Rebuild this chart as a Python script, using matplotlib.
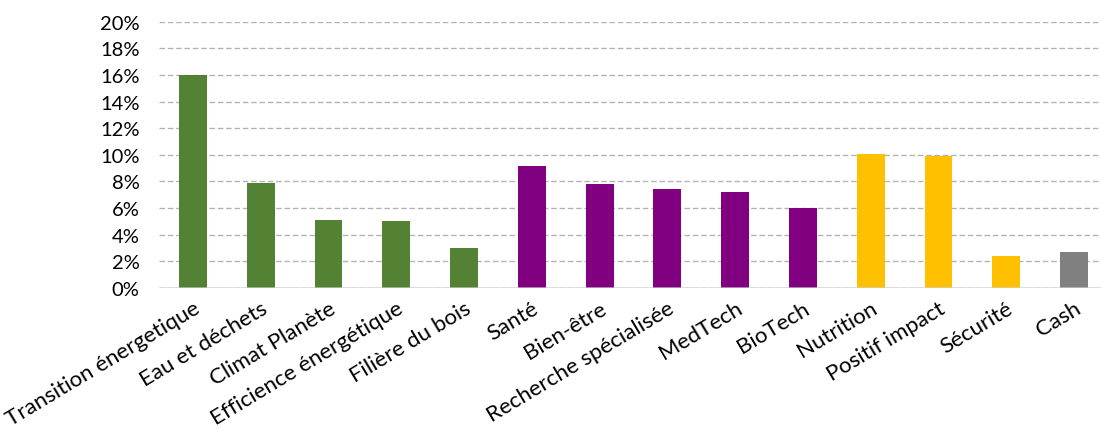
import numpy as np
import matplotlib.pyplot as plt
from matplotlib.ticker import PercentFormatter

categories = ['Transition énergetique', 'Eau et déchets', 'Climat Planète',
              'Efficience énergétique', 'Filière du bois', 'Santé', 'Bien-être',
              'Recherche spécialisée', 'MedTech', 'BioTech', 'Nutrition',
              'Positif impact', 'Sécurité', 'Cash']
weights = [16.0, 7.9, 5.1, 5.0, 3.0, 9.2, 7.8, 7.4, 7.2, 6.0, 10.1, 9.9, 2.4, 2.7]
groups = ['env'] * 5 + ['health'] * 5 + ['other'] * 3 + ['cash']

group_colors = {'env': '#548235', 'health': '#800080', 'other': '#FFC000', 'cash': '#808080'}

plt.rcParams['font.family'] = ['Lato', 'DejaVu Sans']

fig = plt.figure(figsize=(11.01, 4.31), dpi=100)
ax = fig.add_axes([159 / 1101, 142 / 431, 949 / 1101, 266.3 / 431])

x = np.arange(len(categories))
colors = [group_colors[g] for g in groups]
ax.bar(x, np.array(weights) / 100, width=0.41, color=colors, zorder=2)

ax.set_xlim(-0.5, len(categories) - 0.5)
ax.set_ylim(0, 0.2)
ax.set_yticks(np.arange(0, 0.201, 0.02))
ax.yaxis.set_major_formatter(PercentFormatter(1.0, decimals=0))
ax.grid(axis='y', color='#b3b3b3', linestyle=(0, (4, 2)), linewidth=1, zorder=0)
ax.axhline(0, color='#d0d0d0', linewidth=2, alpha=0.7, zorder=3)

for s in ax.spines.values():
    s.set_visible(False)
ax.tick_params(axis='both', length=0, labelsize=14.5, colors='black')
ax.tick_params(axis='y', pad=14)

ax.set_xticks(x)
ax.set_xticklabels(categories, rotation=31, ha='right', va='top',
                   rotation_mode='anchor', fontsize=16)
ax.tick_params(axis='x', pad=7)

fig.savefig('out.png', dpi=100)
